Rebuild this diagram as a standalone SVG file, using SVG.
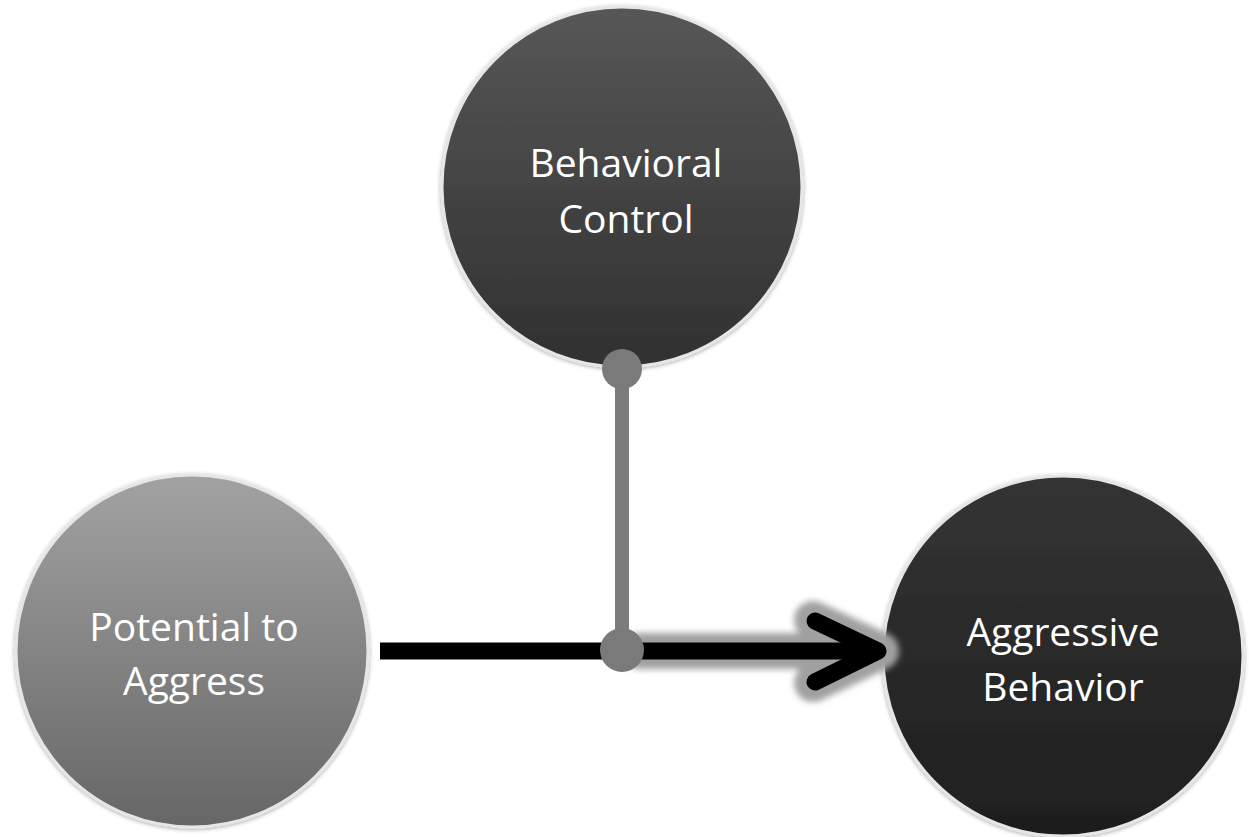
<svg xmlns="http://www.w3.org/2000/svg" width="1249" height="837" viewBox="0 0 1249 837">
<defs>
<style>
.lbl{font-family:"Open Sans","Noto Sans","Liberation Sans",sans-serif;font-size:39px;fill:#ffffff;text-anchor:middle}
.ring{stroke:#e6e6e6;stroke-width:3}
</style>
<linearGradient id="gTop" x1="0" y1="0" x2="0" y2="1">
<stop offset="0" stop-color="#575757"/><stop offset="1" stop-color="#303030"/>
</linearGradient>
<linearGradient id="gLeft" x1="0" y1="0" x2="0" y2="1">
<stop offset="0" stop-color="#a2a2a2"/><stop offset="1" stop-color="#666666"/>
</linearGradient>
<linearGradient id="gRight" x1="0" y1="0" x2="0" y2="1">
<stop offset="0" stop-color="#343434"/><stop offset="1" stop-color="#1e1e1e"/>
</linearGradient>
<filter id="shadow" x="-10%" y="-10%" width="120%" height="120%">
<feDropShadow dx="0" dy="1" stdDeviation="2" flood-color="#000" flood-opacity="0.35"/>
</filter>
<filter id="glow" x="-20%" y="-50%" width="140%" height="200%">
<feGaussianBlur stdDeviation="3"/>
</filter>
</defs>
<rect width="1249" height="837" fill="#ffffff"/>
<g id="node-behavioral-control">
<circle cx="622" cy="187" r="180" fill="url(#gTop)" class="ring" filter="url(#shadow)"/>
<text class="lbl" x="626" y="177">Behavioral</text>
<text class="lbl" x="626" y="233">Control</text>
</g>
<g id="node-potential">
<circle cx="192" cy="651" r="176" fill="url(#gLeft)" class="ring" filter="url(#shadow)"/>
<text class="lbl" x="194" y="641">Potential to</text>
<text class="lbl" x="194" y="695">Aggress</text>
</g>
<g id="node-aggressive">
<circle cx="1063" cy="656" r="180" fill="url(#gRight)" class="ring" filter="url(#shadow)"/>
<text class="lbl" x="1063" y="646">Aggressive</text>
<text class="lbl" x="1063" y="701">Behavior</text>
</g>
<g id="connectors">
<g filter="url(#glow)" stroke="#a0a0a0" fill="none" stroke-linecap="round" stroke-linejoin="round">
<line x1="640" y1="651" x2="876" y2="651" stroke-width="36"/>
<polyline points="813,620 880,651 813,683" stroke-width="38"/>
</g>
<line x1="380" y1="651" x2="872" y2="651" stroke="#000" stroke-width="17"/>
<polyline points="815,621 878,651 815,682" fill="none" stroke="#000" stroke-width="17" stroke-linecap="round" stroke-linejoin="round"/>
<line x1="622" y1="370" x2="622" y2="650" stroke="#7c7c7c" stroke-width="14"/>
<circle cx="622" cy="369" r="20" fill="#7a7a7a"/>
<circle cx="622" cy="650" r="22" fill="#7a7a7a"/>
</g>
</svg>
